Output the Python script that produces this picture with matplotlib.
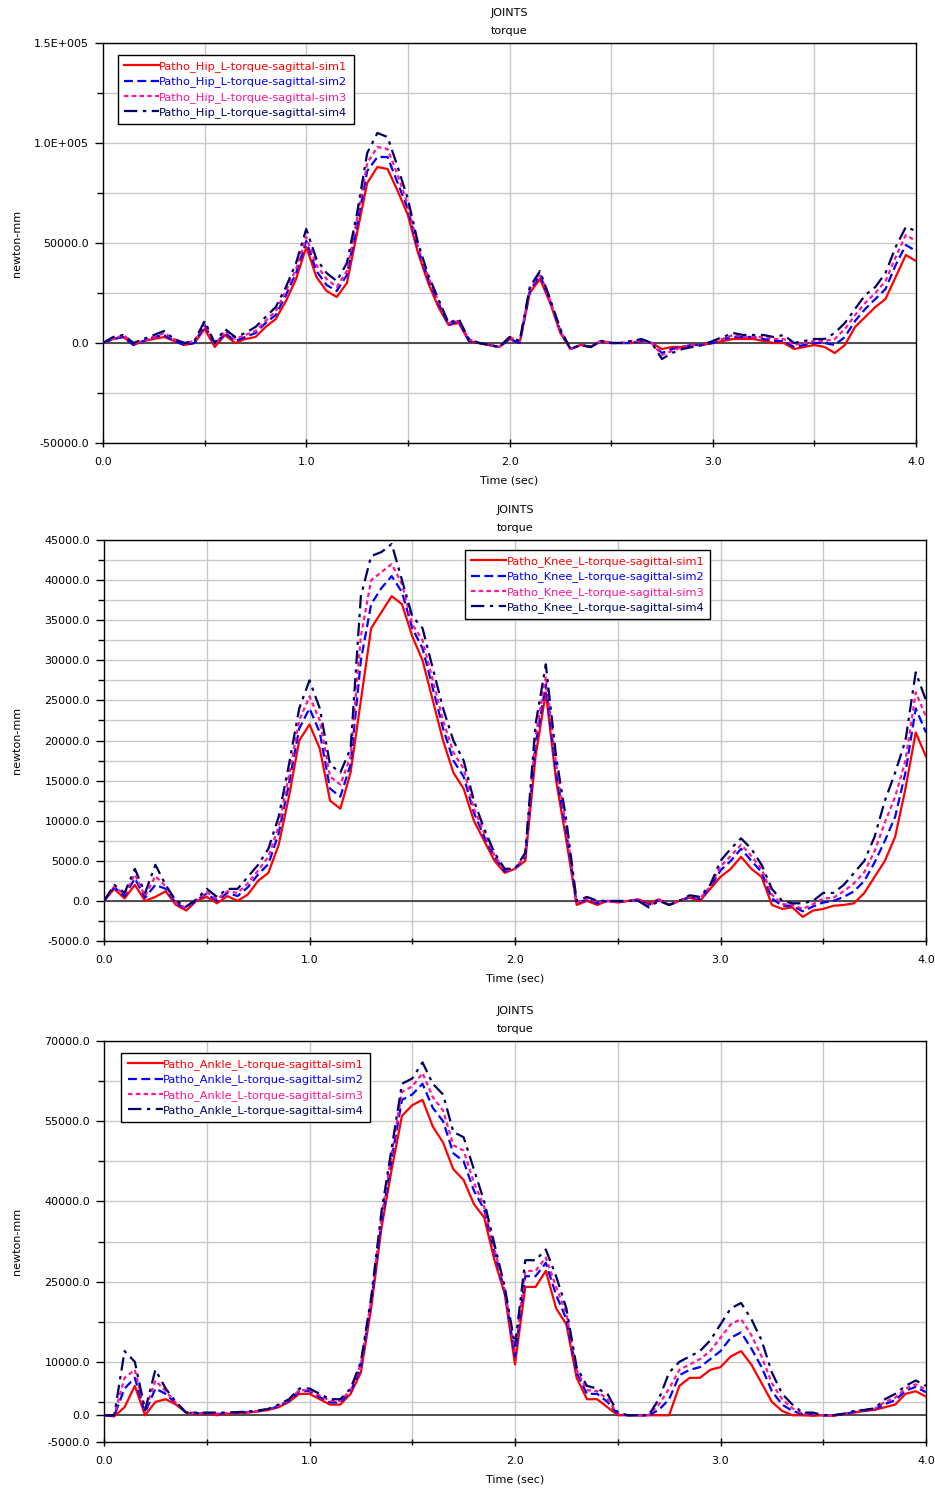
import matplotlib
matplotlib.use("Agg")
import matplotlib.pyplot as plt
import numpy as np
from matplotlib.ticker import FixedLocator, FixedFormatter


# time axis (sec), sampled every 0.05 s
time_s = np.linspace(0.0, 4.0, 81)

# hip torque, values in 1000 newton-mm
hip_sim1 = [0, 2, 3, -1, 1, 2, 3, 1, -1, 0,
            7, -2, 4, 0, 2, 3, 8, 12, 21, 32,
            48, 33, 26, 23, 30, 55, 80, 88, 87, 76,
            64, 45, 30, 18, 9, 10, 1, 0, -1, -2,
            2, 0, 25, 32, 20, 5, -3, -1, -2, 1,
            0, 0, 0, 1, 0, -3, -2, -2, -1, -1,
            0, 1, 2, 2, 2, 1, 0, 0, -3, -2,
            -1, -2, -5, -1, 8, 13, 18, 22, 33, 44,
            41]
hip_sim2 = [0, 2, 3, -1, 1, 3, 4, 1, -1, 0,
            9, -1, 5, 1, 3, 5, 10, 14, 24, 35,
            51, 36, 29, 26, 34, 59, 86, 93, 93, 80,
            67, 47, 32, 20, 9, 11, 1, 0, -1, -2,
            2, 0, 26, 34, 21, 6, -3, -1, -2, 1,
            0, 0, 0, 1, 0, -5, -3, -2, -1, -1,
            0, 2, 3, 3, 3, 2, 1, 1, -2, -1,
            0, 0, -1, 3, 11, 17, 22, 27, 39, 49,
            46]
hip_sim3 = [0, 2, 4, 0, 1, 3, 5, 2, 0, 1,
            10, -1, 6, 2, 4, 6, 11, 16, 26, 37,
            53, 39, 32, 28, 36, 62, 90, 98, 97, 84,
            69, 48, 33, 21, 10, 11, 2, 0, -1, -2,
            3, 1, 27, 35, 21, 6, -3, -1, -2, 1,
            0, 0, 1, 1, 0, -6, -4, -2, -1, -1,
            1, 2, 4, 3, 3, 3, 2, 2, -1, 0,
            1, 1, 2, 7, 14, 20, 25, 31, 43, 54,
            51]
hip_sim4 = [0, 3, 4, 0, 2, 4, 6, 2, 0, 1,
            11, 0, 7, 3, 5, 8, 13, 18, 28, 40,
            57, 42, 35, 31, 40, 65, 95, 105, 103, 88,
            72, 50, 34, 22, 10, 12, 2, 0, -1, -2,
            3, 1, 28, 36, 22, 7, -3, -1, -2, 1,
            0, 0, 1, 2, 0, -8, -5, -3, -2, -1,
            1, 3, 5, 4, 4, 4, 3, 4, 0, 1,
            2, 2, 5, 10, 17, 24, 28, 35, 48, 58,
            56]

# knee torque, values in 1000 newton-mm
knee_sim1 = [0, 1.5, 0.3, 2.0, 0, 0.5, 1.2, -0.5, -1.2, 0,
             0.5, -0.3, 0.6, 0, 0.8, 2.5, 3.5, 7, 13, 20,
             22, 19, 12.5, 11.5, 16, 25, 34, 36, 38, 37,
             33, 30, 25, 20, 16, 14, 10, 7.5, 5, 3.5,
             4, 5, 18, 26, 15, 7.5, -0.5, 0, -0.5, 0,
             -0.2, 0, 0.2, -0.3, 0.2, -0.5, 0, 0.4, 0, 1.5,
             3, 4, 5.5, 4, 3, -0.5, -1, -0.8, -2, -1.2,
             -1, -0.6, -0.5, -0.3, 1, 3, 5, 8, 14, 21,
             18]
knee_sim2 = [0, 1.7, 0.6, 2.8, 0.4, 2.0, 1.5, -0.3, -1.0, 0.1,
             0.9, 0, 1.0, 0.6, 1.7, 3.3, 4.6, 8.4, 14.6, 21.5,
             24, 21, 14, 13, 17, 30, 37, 39, 40.5, 38.5,
             34, 31.5, 26.5, 21.5, 17.5, 15.5, 11, 8, 5.5, 3.7,
             4, 5.5, 19.5, 27, 16, 8.5, -0.3, 0.2, -0.3, 0,
             -0.1, 0, 0.1, -0.5, 0.1, -0.5, 0, 0.5, 0.2, 1.7,
             3.8, 5, 6.5, 5, 3.6, 0.3, -0.6, -0.6, -1.3, -0.7,
             -0.2, 0, 0.5, 1.2, 2.5, 4.8, 7.5, 10.5, 16, 24,
             21]
knee_sim3 = [0, 1.8, 0.8, 3.3, 0.6, 3.1, 1.8, -0.2, -0.9, 0.1,
             1.1, 0.2, 1.2, 1.0, 2.2, 3.8, 5.5, 9.3, 15.6, 22.5,
             25.5, 22.5, 15.5, 14.5, 18, 33, 40, 41, 42, 39.5,
             34.5, 32.5, 27.5, 22.5, 18.5, 16.5, 11.5, 8.5, 5.7, 3.8,
             4, 5.7, 20.5, 28, 17, 9, -0.2, 0.3, -0.2, 0,
             -0.1, 0, 0.1, -0.6, 0.1, -0.5, 0, 0.6, 0.3, 1.8,
             4.3, 5.6, 7, 5.6, 4, 0.8, -0.4, -0.5, -1, -0.4,
             0.3, 0.4, 1.2, 2.2, 3.6, 6.2, 9.8, 13, 17.5, 26,
             23]
knee_sim4 = [0, 2, 1, 4, 1, 4.5, 2, 0, -0.7, 0.2,
             1.5, 0.5, 1.5, 1.5, 3, 4.5, 6.5, 10.5, 17, 24,
             27.5, 24, 17, 16, 19, 38, 43, 43.5, 44.5, 40,
             35.5, 34, 29, 24, 20, 17.5, 12.5, 9, 6, 4,
             4, 6, 22, 29.5, 18, 10, 0, 0.5, 0, 0,
             0, 0, 0, -0.8, 0, -0.5, 0, 0.7, 0.5, 2,
             5, 6.5, 7.8, 6.5, 4.5, 1.5, 0, -0.3, -0.3, 0,
             1, 1, 2, 3.5, 5, 8, 12.5, 16, 20, 28.5,
             25]

# ankle torque, values in 1000 newton-mm
ankle_sim1 = [0, -0.2, 1.5, 5.5, 0, 2.5, 3, 2, 0.5, 0.3,
              0.3, 0, 0.3, 0.4, 0.5, 0.7, 1, 1.5, 2.5, 4,
              4, 3, 2, 2, 4, 8, 20, 35, 46, 56,
              58, 59, 54, 51, 46, 44, 39.5, 37, 29, 22.7,
              9.5, 24, 24, 27, 20, 17, 7, 3, 3, 1.5,
              0, 0, 0, 0, 0, 0, 5.5, 7, 7, 8.5,
              9, 11, 12, 9.5, 6, 2.5, 0.8, 0, 0, -0.1,
              0, -0.1, 0.2, 0.5, 0.8, 1, 1.5, 2, 4, 4.5,
              3.5]
ankle_sim2 = [0, -0.1, 5, 7, 0.5, 5, 4, 2.2, 0.5, 0.4,
              0.4, 0.2, 0.4, 0.5, 0.6, 0.8, 1.1, 1.7, 2.7, 4.5,
              4.5, 3.4, 2.4, 2.4, 4.4, 9, 21, 36, 48, 59,
              60, 62, 57.5, 55, 49, 47.5, 42, 38.5, 30.5, 23.2,
              11, 26, 26, 28.5, 22.5, 18, 8, 4, 4, 2.5,
              0.2, 0, 0, 0, 1, 3, 7.5, 8.5, 9, 10.5,
              12, 14.5, 15.5, 12.5, 9, 4.5, 2, 0.8, 0.2, 0.2,
              0, 0, 0.2, 0.6, 0.9, 1.1, 2.1, 2.8, 4.6, 5.3,
              4.3]
ankle_sim3 = [0, 0, 7, 8.5, 0.8, 6.5, 4.5, 2.3, 0.5, 0.4,
              0.4, 0.3, 0.4, 0.5, 0.6, 0.8, 1.1, 1.8, 2.8, 4.7,
              4.7, 3.7, 2.7, 2.7, 4.7, 9.5, 21.5, 37, 49, 60.5,
              61.5, 64, 59.5, 57, 50.5, 49.5, 43.5, 39, 31, 23.5,
              12, 27, 27, 29.5, 24, 19, 8.5, 4.7, 4.5, 3,
              0.3, 0, 0, 0, 2, 5, 8.5, 9.5, 10.5, 12,
              14.5, 17, 18, 15, 11, 6, 3, 1.3, 0.3, 0.3,
              0, 0, 0.2, 0.7, 1, 1.2, 2.5, 3.3, 5, 5.8,
              4.8]
ankle_sim4 = [0, 0, 12, 10, 1, 8.5, 5, 2.5, 0.5, 0.5,
              0.5, 0.5, 0.5, 0.6, 0.7, 0.9, 1.2, 2, 3, 5,
              5, 4, 3, 3, 5, 10, 22, 38, 50, 62,
              63, 66, 62, 60, 53, 52, 46, 40, 32, 24,
              13, 29, 29, 31, 26, 20, 9, 5.5, 5, 4,
              0.5, 0, 0, 0, 3, 8, 10, 11, 12, 14,
              17, 20, 21, 18, 14, 8, 4, 2, 0.5, 0.5,
              0, 0, 0.3, 0.8, 1, 1.3, 3, 4, 5.5, 6.5,
              5.5]

x_major = [0.0, 1.0, 2.0, 3.0, 4.0]
x_labels = ["0.0", "1.0", "2.0", "3.0", "4.0"]

hip_yticks = [-50000, 0, 50000, 100000, 150000]
hip_ylabels = ["-50000.0", "0.0", "50000.0", "1.0E+005", "1.5E+005"]
knee_yticks = list(range(-5000, 45001, 5000))
knee_ylabels = ["%.1f" % v for v in knee_yticks]
ankle_yticks = [-5000, 0, 10000, 25000, 40000, 55000, 70000]
ankle_ylabels = ["-5000.0", "0.0", "10000.0", "25000.0", "40000.0", "55000.0", "70000.0"]

colors = ["#ff0000", "#0000ff", "#ff1493", "#000066"]
styles = ["-", (0, (4, 2)), (0, (2, 1.5)), (0, (6, 2.5, 1.5, 2.5))]

plt.rcParams["font.family"] = ["DejaVu Sans"]

fig = plt.figure(figsize=(9.35, 14.88), dpi=100)
W, H = 935.0, 1488.0


def make_axes(left, top, right, bottom):
    return fig.add_axes([left / W, 1 - bottom / H, (right - left) / W, (bottom - top) / H])


def draw_panel(ax, series, names, ylim, yticks, ylabels, ygrid, legend_xy):
    for vals, name, c, ls in zip(series, names, colors, styles):
        ax.plot(time_s, np.array(vals) * 1000.0, color=c, linestyle=ls,
                linewidth=1.6, label=name, zorder=3)
    ax.axhline(0, color="#404040", linewidth=1.3, zorder=2)
    ax.set_xlim(0, 4)
    ax.set_ylim(*ylim)

    ax.xaxis.set_major_locator(FixedLocator(x_major))
    ax.xaxis.set_major_formatter(FixedFormatter(x_labels))
    ax.xaxis.set_minor_locator(FixedLocator([0.5, 1.5, 2.5, 3.5]))
    ax.yaxis.set_major_locator(FixedLocator(yticks))
    ax.yaxis.set_major_formatter(FixedFormatter(ylabels))
    ax.yaxis.set_minor_locator(FixedLocator([g for g in ygrid if g not in yticks]))

    for g in ygrid:
        ax.axhline(g, color="#c8c8c8", linewidth=1.0, zorder=1)
    for g in np.arange(0.5, 4.0, 0.5):
        ax.axvline(g, color="#c8c8c8", linewidth=1.0, zorder=1)

    ax.tick_params(axis="both", which="major", labelsize=8, length=6, width=1, color="black")
    ax.tick_params(axis="both", which="minor", length=4, width=1)
    ax.tick_params(axis="x", which="both", direction="inout", pad=7)
    ax.tick_params(axis="y", which="both", direction="out", pad=4)
    for s in ax.spines.values():
        s.set_linewidth(1.0)
        s.set_color("black")

    ax.set_xlabel("Time (sec)", fontsize=8, labelpad=6)
    ax.set_ylabel("newton-mm", fontsize=8)
    ax.yaxis.set_label_coords(-0.1, 0.5)
    ax.text(0.5, 1.075, "JOINTS", transform=ax.transAxes, ha="center", va="center", fontsize=8)
    ax.text(0.5, 1.03, "torque", transform=ax.transAxes, ha="center", va="center", fontsize=8)

    leg = ax.legend(loc="upper left", bbox_to_anchor=legend_xy, fontsize=8.2,
                    handlelength=3.1, handletextpad=0.0, labelspacing=0.38,
                    borderpad=0.55, fancybox=False, framealpha=1,
                    edgecolor="black", labelcolor="linecolor", borderaxespad=0)
    leg.get_frame().set_linewidth(1.0)
    leg.set_zorder(5)


ax_hip = make_axes(103, 43, 916, 443)
draw_panel(ax_hip, [hip_sim1, hip_sim2, hip_sim3, hip_sim4],
           ["Patho_Hip_L-torque-sagittal-sim%d" % i for i in range(1, 5)],
           (-50000, 150000), hip_yticks, hip_ylabels,
           list(range(-50000, 150001, 25000)), (0.018, 0.97))

ax_knee = make_axes(104, 540, 926, 941)
draw_panel(ax_knee, [knee_sim1, knee_sim2, knee_sim3, knee_sim4],
           ["Patho_Knee_L-torque-sagittal-sim%d" % i for i in range(1, 5)],
           (-5000, 45000), knee_yticks, knee_ylabels,
           list(range(-5000, 45001, 2500)), (0.439, 0.975))

ax_ankle = make_axes(104, 1041, 926, 1442)
draw_panel(ax_ankle, [ankle_sim1, ankle_sim2, ankle_sim3, ankle_sim4],
           ["Patho_Ankle_L-torque-sagittal-sim%d" % i for i in range(1, 5)],
           (-5000, 70000), ankle_yticks, ankle_ylabels,
           list(range(-5000, 70001, 7500)), (0.021, 0.97))

fig.savefig("out.png", dpi=100)
